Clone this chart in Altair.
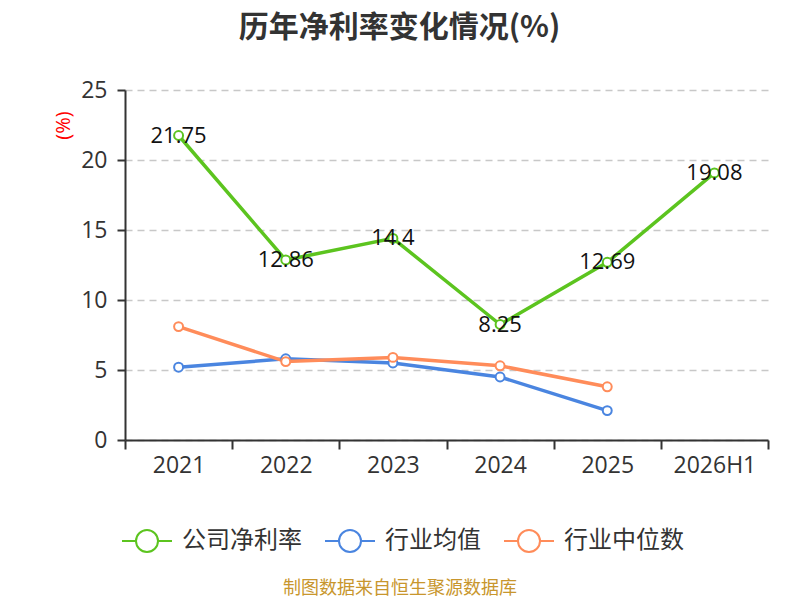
import altair as alt
import pandas as pd

years = ["2021", "2022", "2023", "2024", "2025", "2026H1"]
company = [21.75, 12.86, 14.4, 8.25, 12.69, 19.08]
ind_mean = [5.2, 5.8, 5.5, 4.5, 2.1]
ind_median = [8.1, 5.6, 5.9, 5.3, 3.8]
series_names = ["公司净利率", "行业均值", "行业中位数"]
colors = ["#5CC41F", "#4A85E0", "#FF8C5A"]

rows = []
for name, vals in zip(series_names, [company, ind_mean, ind_median]):
    for yr, v in zip(years, vals):
        rows.append({"year": yr, "value": v, "series": name})
df = pd.DataFrame(rows)

FONT = "Open Sans, Noto Sans CJK SC"
CJK = "Noto Sans CJK SC"

x_enc = alt.X(
    "year:O",
    sort=years,
    bandPosition=0.5,
    scale=alt.Scale(type="band", domain=years, paddingInner=0, paddingOuter=0),
    axis=alt.Axis(
        title=None, labelAngle=0, tickBand="extent", labelFontSize=23,
        labelFont=FONT, labelColor="#333333", domainColor="#333333",
        domainWidth=2, tickColor="#333333", tickWidth=2, tickSize=9,
        labelPadding=5, grid=False,
    ),
)
y_enc = alt.Y(
    "value:Q",
    scale=alt.Scale(domain=[0, 25], nice=False, zero=True),
    axis=alt.Axis(
        values=[0, 5, 10, 15, 20, 25], title="(%)", titleColor="#FF0000",
        titleFont=FONT, titleFontSize=20, titleFontWeight="normal",
        titleX=-62, titleY=35, titleAngle=270, titleAlign="center",
        titleBaseline="middle",
        labelFontSize=23, labelFont=FONT, labelColor="#333333",
        domainColor="#333333", domainWidth=2, tickColor="#333333",
        tickWidth=2, tickSize=8, labelPadding=10,
        grid=True, gridDash=[7, 5], gridColor="#C8C8C8", gridWidth=1.5,
    ),
)
color_enc = alt.Color(
    "series:N",
    scale=alt.Scale(domain=series_names, range=colors),
    legend=alt.Legend(
        title=None, orient="none", direction="horizontal",
        legendX=-4, legendY=425,
        symbolType="M-1,0L-0.44,0M0.44,0L1,0M-0.44,0A0.44,0.44,0,1,1,0.44,0A0.44,0.44,0,1,1,-0.44,0Z",
        symbolSize=2500, symbolStrokeWidth=2, symbolFillColor="white",
        labelFont=CJK, labelFontSize=24, labelColor="#333333",
        labelOffset=9, columnPadding=19,
    ),
)

base = alt.Chart(df)
lines = base.mark_line(strokeWidth=3.5).encode(x=x_enc, y=y_enc, color=color_enc)
points = base.mark_point(filled=False, fill="white", fillOpacity=1, size=80,
                         strokeWidth=2, opacity=1).encode(
    x=x_enc, y=y_enc, color=color_enc)
labels = base.transform_filter(alt.datum.series == "公司净利率").mark_text(
    font=FONT, fontSize=22, color="#111111", baseline="middle", align="center"
).encode(x=x_enc, y=y_enc, text=alt.Text("value:Q"))

source = alt.Chart(pd.DataFrame({"t": ["制图数据来自恒生聚源数据库"]})).mark_text(
    font=CJK, fontSize=18, color="#C8962D", align="center", baseline="middle"
).encode(x=alt.value(275), y=alt.value(499), text="t:N")

chart = alt.layer(lines, points, labels, source).properties(
    width=643, height=350,
    autosize=alt.AutoSizeParams(type="none"),
    padding={"left": 117, "top": 82, "right": 20, "bottom": 158},
    title=alt.TitleParams(
        "历年净利率变化情况(%)", font=CJK, fontSize=30, fontWeight="bold",
        color="#333333", anchor="middle", dx=-47, offset=36,
    ),
).configure_view(stroke=None)

chart.save("out.html", embed_options={"renderer": "svg", "actions": False})
